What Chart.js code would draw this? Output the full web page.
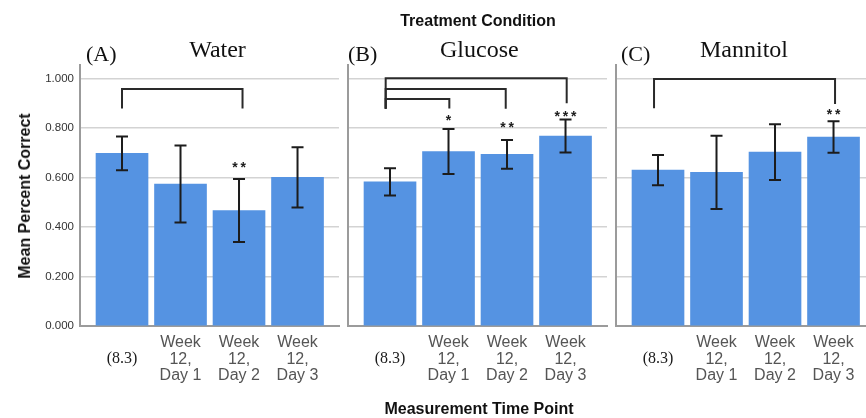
<!DOCTYPE html>
<html><head><meta charset="utf-8">
<script src="https://cdn.jsdelivr.net/npm/chart.js@4.4.1/dist/chart.umd.min.js"></script>
<style>
html,body{margin:0;padding:0;background:#fff;width:866px;height:418px;overflow:hidden;position:relative;}
canvas{position:absolute;top:0;}
.t{position:absolute;font-family:'Liberation Sans',Arial,sans-serif;font-weight:bold;font-size:16px;color:#111;white-space:nowrap;line-height:18px;}
</style></head><body>
<canvas id="cA" width="344" height="418" style="left:0px;width:344px;height:418px"></canvas>
<canvas id="cB" width="268" height="418" style="left:344px;width:268px;height:418px"></canvas>
<canvas id="cC" width="268" height="418" style="left:612px;width:268px;height:418px"></canvas>
<div class="t" style="left:478px;top:21px;transform:translate(-50%,-50%)">Treatment Condition</div>
<div class="t" style="left:479px;top:409px;transform:translate(-50%,-50%)">Measurement Time Point</div>
<div class="t" style="left:25px;top:196px;transform:translate(-50%,-50%) rotate(-90deg)">Mean Percent Correct</div>
<script>
// ---- data ----
const timeLabels = [['(8.3)'], ['Week', '12,', 'Day 1'], ['Week', '12,', 'Day 2'], ['Week', '12,', 'Day 3']];
const yTicks = [0, 0.2, 0.4, 0.6, 0.8, 1.0];
const panelNames = ['Water', 'Glucose', 'Mannitol'];
const panelLetters = ['(A)', '(B)', '(C)'];

const waterMeans    = [0.698, 0.574, 0.467, 0.601];
const waterErr      = [0.068, 0.156, 0.127, 0.122];
const glucoseMeans  = [0.583, 0.705, 0.694, 0.768];
const glucoseErr    = [0.055, 0.091, 0.058, 0.067];
const mannitolMeans = [0.630, 0.621, 0.703, 0.764];
const mannitolErr   = [0.061, 0.148, 0.113, 0.064];

// significance marks: [barIndex, stars]
const waterSig    = [[2, '**']];
const glucoseSig  = [[1, '*'], [2, '**'], [3, '***']];
const mannitolSig = [[3, '**']];

// ---- annotation layout (positions in axis units) ----
const waterBrackets    = [{x1: 0, x2: 2.06, top: 0.958, y1: 0.879, y2: 0.879}];
const glucoseBrackets  = [
  {x1: -0.074, x2: 3.02,  top: 1.001, y1: 0.878, y2: 0.900},
  {x1: -0.074, x2: 1.978, top: 0.958, y1: 0.878, y2: 0.878},
  {x1: -0.074, x2: 1.014, top: 0.918, y1: 0.878, y2: 0.879}
];
const mannitolBrackets = [{x1: -0.068, x2: 3.026, top: 0.998, y1: 0.880, y2: 0.897}];
const waterStarY    = [0.655];
const glucoseStarY  = [0.843, 0.815, 0.859];
const mannitolStarY = [0.869];

const BAR = '#5593e2', INK = '#1c1c1c', AXIS = '#9b9b9b', GRID = '#d3d3d3';

function makePanel(id, p) {
  const overlay = {
    id: 'overlay' + id,
    afterDatasetsDraw(chart) {
      const ctx = chart.ctx, xs = chart.scales.x, ys = chart.scales.y, a = chart.chartArea;
      ctx.save();
      // error bars
      ctx.strokeStyle = INK; ctx.lineWidth = 2; ctx.lineCap = 'butt';
      p.means.forEach((m, i) => {
        const x = xs.getPixelForValue(i);
        const yt = ys.getPixelForValue(m + p.err[i]);
        const yb = ys.getPixelForValue(m - p.err[i]);
        ctx.beginPath();
        ctx.moveTo(x, yt); ctx.lineTo(x, yb);
        ctx.moveTo(x - 6, yt); ctx.lineTo(x + 6, yt);
        ctx.moveTo(x - 6, yb); ctx.lineTo(x + 6, yb);
        ctx.stroke();
      });
      // brackets
      ctx.strokeStyle = '#2a2a2a'; ctx.lineWidth = 2;
      p.brackets.forEach(b => {
        const x1 = xs.getPixelForValue(b.x1), x2 = xs.getPixelForValue(b.x2);
        const yt = ys.getPixelForValue(b.top);
        ctx.beginPath();
        ctx.moveTo(x1, ys.getPixelForValue(b.y1));
        ctx.lineTo(x1, yt); ctx.lineTo(x2, yt);
        ctx.lineTo(x2, ys.getPixelForValue(b.y2));
        ctx.stroke();
      });
      // stars
      ctx.fillStyle = INK; ctx.font = 'bold 14px "Liberation Sans", Arial, sans-serif';
      ctx.textAlign = 'center'; ctx.textBaseline = 'alphabetic';
      p.sig.forEach((s, k) => {
        const x = xs.getPixelForValue(s[0]);
        const y = ys.getPixelForValue(p.starY[k]) + 8;
        const n = s[1].length, gap = 8.3;
        for (let j = 0; j < n; j++) ctx.fillText('*', x + (j - (n - 1) / 2) * gap, y);
      });
      // panel titles
      ctx.fillStyle = '#111';
      ctx.font = '22px "Liberation Serif", "Times New Roman", serif';
      ctx.textAlign = 'left';
      ctx.fillText(p.letter, a.left + p.letterOff, 61);
      ctx.font = '24px "Liberation Serif", "Times New Roman", serif';
      ctx.textAlign = 'center';
      ctx.fillText(p.name, a.left + p.nameOff, 57);
      ctx.restore();
    }
  };
  return new Chart(document.getElementById(id), {
    type: 'bar',
    data: {
      datasets: [{
        data: p.means.map((v, i) => ({x: i, y: v})),
        backgroundColor: BAR, borderWidth: 0, barThickness: 52
      }]
    },
    options: {
      responsive: false, animation: false, events: [],
      layout: {padding: {left: p.padL, right: p.padR, top: 65, bottom: 0}},
      plugins: {legend: {display: false}, tooltip: {enabled: false}},
      scales: {
        x: {
          type: 'linear', min: -0.718, max: 3.709, offset: false, z: 1,
          afterBuildTicks: s => { s.ticks = timeLabels.map((_, i) => ({value: i})); },
          afterFit: s => { s.height = 92; },
          grid: {display: false, drawTicks: false},
          border: {display: true, color: AXIS, width: 2},
          ticks: {
            autoSkip: false, maxRotation: 0, minRotation: 0, padding: 8,
            callback: v => { const l = timeLabels[v]; return l.length === 1 ? ['', l[0], ''] : l; },
            font: c => c.index === 0
              ? {family: '"Liberation Serif", "Times New Roman", serif', size: 16, lineHeight: '16.8px'}
              : {family: '"Liberation Sans", Arial, sans-serif', size: 16, lineHeight: '16.8px'},
            color: c => c.index === 0 ? '#1a1a1a' : '#555'
          }
        },
        y: {
          min: 0, max: 1.055,
          afterBuildTicks: s => { s.ticks = yTicks.map(v => ({value: v})); },
          afterFit: s => { s.width = p.showY ? 80 : 0; },
          grid: {color: GRID, lineWidth: 1.5, drawTicks: false},
          border: {display: true, color: AXIS, width: 2},
          ticks: {
            display: p.showY, padding: 6, color: '#333',
            font: {family: '"Liberation Sans", Arial, sans-serif', size: 11.5},
            callback: v => v.toFixed(3)
          }
        }
      }
    },
    plugins: [overlay]
  });
}

makePanel('cA', {means: waterMeans, err: waterErr, sig: waterSig, starY: waterStarY, brackets: waterBrackets,
  letter: panelLetters[0], name: panelNames[0], letterOff: 6, nameOff: 137.5, showY: true, padL: 0, padR: 5});
makePanel('cB', {means: glucoseMeans, err: glucoseErr, sig: glucoseSig, starY: glucoseStarY, brackets: glucoseBrackets,
  letter: panelLetters[1], name: panelNames[1], letterOff: 0, nameOff: 131.3, showY: false, padL: 4, padR: 5});
makePanel('cC', {means: mannitolMeans, err: mannitolErr, sig: mannitolSig, starY: mannitolStarY, brackets: mannitolBrackets,
  letter: panelLetters[2], name: panelNames[2], letterOff: 5, nameOff: 128, showY: false, padL: 4, padR: 5});
</script>
</body></html>
